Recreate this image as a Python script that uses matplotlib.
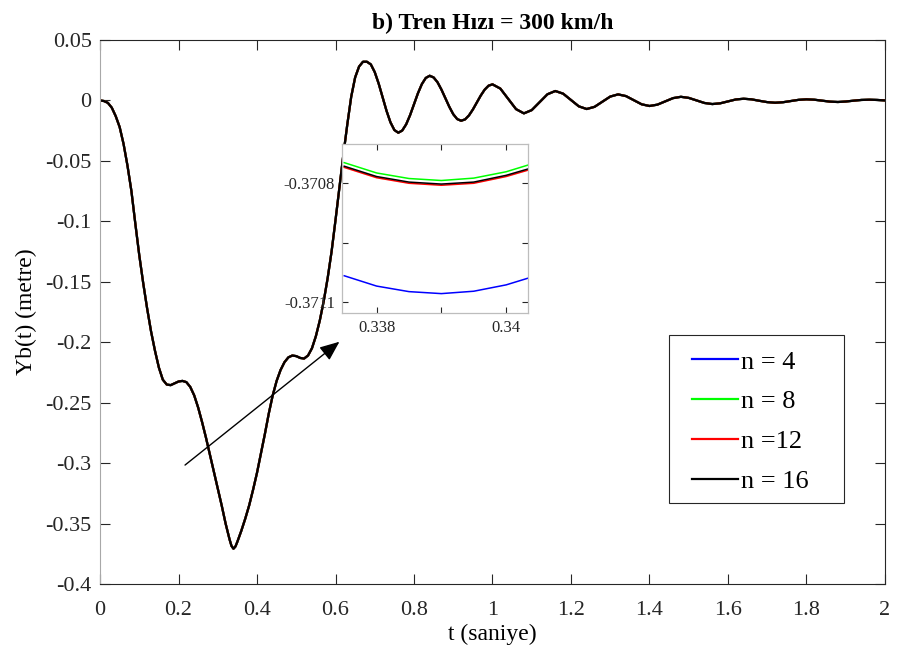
"""
plot.py - Yb(t) response at 300 km/h, four n values plus zoomed inset near the minimum
"""

import matplotlib
matplotlib.use("Agg")
import matplotlib.pyplot as plt
from matplotlib.patches import Rectangle

plt.rcParams["font.family"] = ["Liberation Serif", "DejaVu Serif"]

# main curve (all n overlap at this scale)
t_main = [0.00, 0.01, 0.02, 0.03, 0.04, 0.05, 0.06, 0.07, 0.08, 0.09,
          0.10, 0.11, 0.12, 0.13, 0.14, 0.15, 0.16, 0.17, 0.18, 0.19,
          0.20, 0.21, 0.22, 0.23, 0.24, 0.25, 0.26, 0.27, 0.28, 0.29,
          0.30, 0.31, 0.32, 0.33, 0.335, 0.34, 0.345, 0.35, 0.36, 0.37, 0.38, 0.39,
          0.40, 0.41, 0.42, 0.43, 0.44, 0.45, 0.46, 0.47, 0.48, 0.49,
          0.50, 0.51, 0.52, 0.53, 0.54, 0.55, 0.56, 0.57, 0.58, 0.59,
          0.60, 0.61, 0.62, 0.63, 0.64, 0.65, 0.66, 0.67, 0.68, 0.69,
          0.70, 0.71, 0.72, 0.73, 0.74, 0.75, 0.76, 0.77, 0.78, 0.79,
          0.80, 0.81, 0.82, 0.83, 0.84, 0.85, 0.86, 0.87, 0.88, 0.89,
          0.90, 0.91, 0.92, 0.93, 0.94, 0.95, 0.96, 0.97, 0.98, 0.99,
          1.00, 1.02, 1.04, 1.06, 1.08, 1.10, 1.12, 1.14, 1.16, 1.18,
          1.20, 1.22, 1.24, 1.26, 1.28, 1.30, 1.32, 1.34, 1.36, 1.38,
          1.40, 1.42, 1.44, 1.46, 1.48, 1.50, 1.52, 1.54, 1.56, 1.58,
          1.60, 1.62, 1.64, 1.66, 1.68, 1.70, 1.72, 1.74, 1.76, 1.78,
          1.80, 1.82, 1.84, 1.86, 1.88, 1.90, 1.92, 1.94, 1.96, 1.98, 2.00]
yb_main = [0.0, -0.0005, -0.002, -0.006, -0.013, -0.022, -0.036, -0.054, -0.075, -0.102,
           -0.128, -0.151, -0.172, -0.191, -0.207, -0.221, -0.231, -0.235, -0.2355, -0.234,
           -0.2325, -0.232, -0.233, -0.237, -0.244, -0.254, -0.266, -0.279, -0.293, -0.307,
           -0.321, -0.335, -0.350, -0.363, -0.3685, -0.3708, -0.369, -0.365, -0.356, -0.346, -0.335, -0.322,
           -0.308, -0.292, -0.276, -0.259, -0.244, -0.232, -0.223, -0.2165, -0.2125, -0.211,
           -0.2115, -0.213, -0.2135, -0.211, -0.205, -0.195, -0.182, -0.166, -0.147, -0.125,
           -0.099, -0.072, -0.045, -0.020, 0.003, 0.019, 0.028, 0.032, 0.032, 0.0298,
           0.0234, 0.0139, 0.0027, -0.0086, -0.0181, -0.0245, -0.0267, -0.0249, -0.0198, -0.0122,
           -0.0032, 0.0059, 0.0135, 0.0186, 0.0204, 0.0190, 0.0150, 0.0089, 0.0018, -0.0053,
           -0.0114, -0.0154, -0.0168, -0.0157, -0.0124, -0.0075, -0.0018, 0.0040, 0.0089, 0.0122,
           0.0133, 0.0098, 0.0013, -0.0072, -0.0107, -0.0080, -0.0015, 0.0051, 0.0078, 0.0056,
           0.0004, -0.0049, -0.0071, -0.0053, -0.0011, 0.0032, 0.0050, 0.0036, 0.0002, -0.0032,
           -0.0046, -0.0035, -0.0008, 0.0019, 0.0030, 0.0021, 0.0, -0.0021, -0.0030, -0.0024,
           -0.0008, 0.0008, 0.0014, 0.0009, -0.0003, -0.0014, -0.0019, -0.0015, -0.0005, 0.0005,
           0.0009, 0.0006, -0.0002, -0.0010, -0.0013, -0.0009, -0.0002, 0.0004, 0.0006, 0.0004, 0.0]

# inset (zoom near the minimum)
t_zoom = [0.3375, 0.338, 0.3385, 0.339, 0.3395, 0.340, 0.3404]
yb_n4 = [-0.371033, -0.371059, -0.371073, -0.371078, -0.371072, -0.371056, -0.371036]
yb_n8 = [-0.370748, -0.370774, -0.370788, -0.370793, -0.370787, -0.370771, -0.370751]
yb_n12 = [-0.370760, -0.370786, -0.370800, -0.370805, -0.370800, -0.370783, -0.370764]
yb_n16 = [-0.370757, -0.370783, -0.370797, -0.370802, -0.370797, -0.370780, -0.370761]

labels = ["n = 4", "n = 8", "n =12", "n = 16"]
colors = ["#0000ff", "#00ff00", "#ff0000", "#000000"]
zoom_series = [yb_n4, yb_n8, yb_n12, yb_n16]

x_ticks = [0, 0.2, 0.4, 0.6, 0.8, 1, 1.2, 1.4, 1.6, 1.8, 2]
x_ticklabels = ["0", "0.2", "0.4", "0.6", "0.8", "1", "1.2", "1.4", "1.6", "1.8", "2"]
y_ticks = [-0.4, -0.35, -0.3, -0.25, -0.2, -0.15, -0.1, -0.05, 0, 0.05]
y_ticklabels = ["-0.4", "-0.35", "-0.3", "-0.25", "-0.2", "-0.15", "-0.1", "-0.05", "0", "0.05"]

fig = plt.figure(figsize=(8.97, 6.62), dpi=100)
ax = fig.add_axes([0.1115, 0.1178, 0.8751, 0.8218])

for lab, col in zip(labels, colors):
    ax.plot(t_main, yb_main, color=col, lw=1.6, label=lab)

ax.set_xlim(0, 2)
ax.set_ylim(-0.4, 0.05)
ax.set_xticks(x_ticks)
ax.set_xticklabels(x_ticklabels)
ax.set_yticks(y_ticks)
ax.set_yticklabels(y_ticklabels)
ax.tick_params(direction="in", top=True, right=True, length=7, width=0.8,
               labelsize=16, colors="#262626")
ax.tick_params(axis="x", pad=12)
ax.tick_params(axis="y", pad=6)
for s in ax.spines.values():
    s.set_color("#262626")
    s.set_linewidth(0.8)
ax.spines["left"].set_color("#a8a8a8")

ax.set_xlabel("t (saniye)", fontsize=17, labelpad=3)
ax.set_ylabel("Yb(t) (metre)", fontsize=17, labelpad=6)
ax.set_title("b) Tren Hızı = 300 km/h", fontsize=17, fontweight="bold", pad=8)

# legend box drawn by hand so the entries can sit inside with MATLAB-like padding
ax.add_patch(Rectangle((0.7252, 0.1494), 0.2226, 0.3083, transform=ax.transAxes,
                       facecolor="white", edgecolor="#262626", lw=0.8, zorder=4))
leg = ax.legend(loc="upper left", bbox_to_anchor=(0.7537, 0.4300),
                fontsize=19, handlelength=1.75, handletextpad=0.12,
                labelspacing=0.62, borderpad=0, borderaxespad=0, frameon=False)
leg.set_zorder(5)

ax.annotate("", xy=(0.610, -0.1996), xytext=(0.2166, -0.3016),
            arrowprops=dict(arrowstyle="-|>,head_length=0.6,head_width=0.25",
                            color="k", lw=1.0, mutation_scale=20,
                            shrinkA=0, shrinkB=0))

# inset axes
axi = fig.add_axes([0.381, 0.5277, 0.208, 0.2548])
for ys, col in zip(zoom_series, colors):
    axi.plot(t_zoom, ys, color=col, lw=1.1)
axi.set_xlim(0.337462, 0.340343)
axi.set_ylim(-0.371126, -0.370701)
axi.set_xticks([0.338, 0.339, 0.340])
axi.set_xticklabels(["0.338", "", "0.34"])
axi.set_yticks([-0.3711, -0.37095, -0.3708])
axi.set_yticklabels(["-0.3711", "", "-0.3708"])
axi.tick_params(direction="in", top=True, right=True, length=4, width=0.8,
                labelsize=12, colors="#262626", pad=5)
for s in axi.spines.values():
    s.set_color("#bdbdbd")
    s.set_linewidth(0.9)

fig.savefig("out.png", dpi=100)
